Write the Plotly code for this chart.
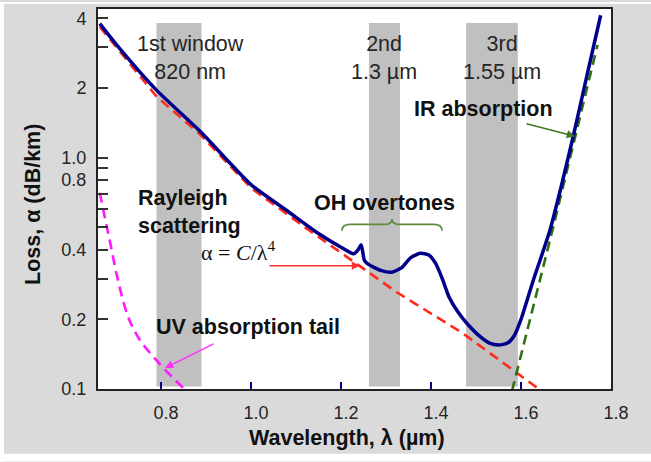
import plotly.graph_objects as go

# ---------------- data ----------------
total_x = [0.664, 0.70, 0.79, 0.887, 1.0, 1.08, 1.15, 1.2, 1.228, 1.238, 1.245, 1.252,
           1.262, 1.29, 1.313, 1.335, 1.355, 1.376, 1.395, 1.41, 1.425, 1.44, 1.46,
           1.48, 1.51, 1.53, 1.55, 1.57, 1.585, 1.60, 1.627, 1.664,
           1.69, 1.717, 1.745, 1.777]
total_y = [3.80, 3.10, 1.96, 1.30, 0.765, 0.59, 0.47, 0.41, 0.384, 0.40, 0.42, 0.36,
           0.345, 0.325, 0.32, 0.335, 0.37, 0.386, 0.38, 0.35, 0.30, 0.25, 0.215,
           0.192, 0.168, 0.158, 0.155, 0.158, 0.17, 0.20, 0.294, 0.483,
           0.76, 1.26, 2.2, 4.13]

rayleigh_x = [0.664, 0.79, 0.887, 1.0, 1.12, 1.242, 1.324, 1.471, 1.59, 1.665]
rayleigh_y = [3.68, 1.84, 1.26, 0.74, 0.50, 0.341, 0.262, 0.174, 0.117, 0.092]

ir_x = [1.58, 1.67, 1.77]
ir_y = [0.098, 0.487, 3.07]

uv_x = [0.664, 0.676, 0.687, 0.702, 0.727, 0.753, 0.783, 0.813, 0.861]
uv_y = [0.706, 0.542, 0.43, 0.31, 0.205, 0.163, 0.138, 0.119, 0.096]

# transmission windows (start, end) in µm and their labels
windows = [(0.79, 0.89), (1.262, 1.331), (1.478, 1.593)]
window_labels = ["1st window<br>820 nm", "2nd<br>1.3 µm", "3rd<br>1.55 µm"]

x_tickvals = [0.8, 1.0, 1.2, 1.4, 1.6, 1.8]
x_ticktext = ["0.8", "1.0", "1.2", "1.4", "1.6", "1.8"]
y_tickvals = [0.1, 0.2, 0.3, 0.4, 0.5, 0.6, 0.7, 0.8, 0.9, 1.0, 2, 3, 4]
y_ticktext = ["0.1", "0.2", "", "0.4", "", "", "", "0.8", "", "1.0", "2", "", "4"]

# ---------------- layout geometry helpers (pixel -> paper) ----------------
W, H = 651, 462
L, R, T, B = 98, 40, 7, 73
PW, PH = W - L - R, H - T - B


def pxx(x):
    return (x - L) / PW


def pxy(y):
    return (H - B - y) / PH


fig = go.Figure()

fig.add_trace(go.Scatter(x=rayleigh_x, y=rayleigh_y, mode="lines",
                         line=dict(color="#ff2a1a", width=2.6, dash="10px,6px"),
                         hoverinfo="skip"))
fig.add_trace(go.Scatter(x=ir_x, y=ir_y, mode="lines",
                         line=dict(color="#2f6e12", width=2.6, dash="10px,6px"),
                         hoverinfo="skip"))
fig.add_trace(go.Scatter(x=uv_x, y=uv_y, mode="lines",
                         line=dict(color="#ff19ff", width=2.6, dash="10px,6px",
                                   shape="spline", smoothing=1.0),
                         hoverinfo="skip"))
fig.add_trace(go.Scatter(x=total_x, y=total_y, mode="lines",
                         line=dict(color="#00008b", width=3.5, shape="spline", smoothing=0.6),
                         hoverinfo="skip"))

shapes = []
for (a, b) in windows:
    shapes.append(dict(type="rect", xref="x", yref="paper", x0=a, x1=b,
                       y0=pxy(386.5), y1=pxy(21), fillcolor="#c0c0c0",
                       line=dict(width=0), layer="below"))

# curly brace over the OH overtones
brace_px = [("M", 342, 230), ("Q", 342, 223.5, 350, 223.5), ("L", 384, 223.5),
            ("Q", 392, 223.5, 392, 218), ("Q", 392, 223.5, 400, 223.5),
            ("L", 434, 223.5), ("Q", 442, 223.5, 442, 230)]
path = ""
for seg in brace_px:
    cmd = seg[0]
    pts = seg[1:]
    coords = []
    for i in range(0, len(pts), 2):
        coords.append(f"{pxx(pts[i]):.5f},{pxy(pts[i+1]):.5f}")
    path += cmd + " " + " ".join(coords) + " "
shapes.append(dict(type="path", xref="paper", yref="paper", path=path.strip(),
                   line=dict(color="#5b8c3a", width=1.6)))

# white outer frame strips
shapes.append(dict(type="rect", xref="paper", yref="paper", x0=pxx(0), x1=pxx(4),
                   y0=pxy(462), y1=pxy(0), fillcolor="white", line=dict(width=0), layer="above"))
shapes.append(dict(type="rect", xref="paper", yref="paper", x0=pxx(0), x1=pxx(651),
                   y0=pxy(462), y1=pxy(454), fillcolor="white", line=dict(width=0), layer="above"))
shapes.append(dict(type="rect", xref="paper", yref="paper", x0=pxx(0), x1=pxx(651),
                   y0=pxy(2), y1=pxy(0), fillcolor="white", line=dict(width=0), layer="above"))

bold = dict(family="Liberation Sans, Arial, sans-serif", size=21.5, color="#111111")
reg = dict(family="Liberation Sans, Arial, sans-serif", size=21.5, color="#262626")

ann = []
centers = [190, 384, 502]
for lab, cx in zip(window_labels, centers):
    ann.append(dict(text=lab, x=pxx(cx), y=pxy(56.5), xref="paper", yref="paper",
                    showarrow=False, font=reg, xanchor="center", yanchor="middle"))

ann.append(dict(text="<b>IR absorption</b>", x=pxx(483), y=pxy(108), xref="paper", yref="paper",
                showarrow=False, font=bold, xanchor="center", yanchor="middle"))
ann.append(dict(text="<b>OH overtones</b>", x=pxx(384), y=pxy(202), xref="paper", yref="paper",
                showarrow=False, font=bold, xanchor="center", yanchor="middle"))
ann.append(dict(text="<b>Rayleigh<br>scattering</b>", x=pxx(136), y=pxy(211.5), xref="paper",
                yref="paper", showarrow=False, font=bold, xanchor="left", yanchor="middle",
                align="left"))
ann.append(dict(text="α = <i>C</i>/λ<sup>4</sup>", x=pxx(238), y=pxy(250), xref="paper",
                yref="paper", showarrow=False,
                font=dict(family="Liberation Serif, Times New Roman, serif", size=22, color="#111111"),
                xanchor="center", yanchor="middle"))
ann.append(dict(text="<b>UV absorption tail</b>", x=pxx(154), y=pxy(327), xref="paper", yref="paper",
                showarrow=False, font=bold, xanchor="left", yanchor="middle"))

# arrows
ann.append(dict(text="", x=pxx(575), y=pxy(135), xref="paper", yref="paper", showarrow=True,
                ax=-50, ay=-13, arrowhead=2, arrowsize=1.1, arrowwidth=1.5, arrowcolor="#3d7a1f"))
ann.append(dict(text="", x=pxx(360), y=pxy(265), xref="paper", yref="paper", showarrow=True,
                ax=-92, ay=0, arrowhead=2, arrowsize=1.1, arrowwidth=1.5, arrowcolor="#ff3030"))
ann.append(dict(text="", x=pxx(165), y=pxy(368), xref="paper", yref="paper", showarrow=True,
                ax=50, ay=-25, arrowhead=2, arrowsize=1.1, arrowwidth=1.5, arrowcolor="#ff30ff"))

# axis titles
ann.append(dict(text="<b>Wavelength, λ (µm)</b>", x=pxx(347), y=pxy(438), xref="paper",
                yref="paper", showarrow=False, font=bold, xanchor="center", yanchor="middle"))
ann.append(dict(text="<b>Loss, α (dB/km)</b>", x=pxx(33), y=pxy(204), xref="paper",
                yref="paper", showarrow=False, font=bold, xanchor="center", yanchor="middle",
                textangle=-90))

fig.update_layout(
    width=W, height=H, autosize=False,
    margin=dict(l=L, r=R, t=T, b=B, pad=0),
    paper_bgcolor="#dadada", plot_bgcolor="white",
    showlegend=False,
    shapes=shapes, annotations=ann,
    font=dict(family="Liberation Sans, Arial, sans-serif", size=18, color="#262626"),
)
fig.update_xaxes(range=[0.66, 1.8], tickvals=x_tickvals, ticktext=x_ticktext,
                 ticks="inside", ticklen=7, tickwidth=1.5, tickcolor="#00008b",
                 showline=True, linecolor="#222222", linewidth=2, mirror=True,
                 showgrid=False, zeroline=False, ticklabelstandoff=6, ticklabelshift=5,
                 tickfont=dict(size=18, color="#262626"))
fig.update_yaxes(type="log", range=[-1, 0.643], tickvals=y_tickvals, ticktext=y_ticktext,
                 ticks="inside", ticklen=10, tickwidth=1.5, tickcolor="#333333",
                 showline=True, linecolor="#222222", linewidth=2, mirror=True,
                 showgrid=False, zeroline=False, ticklabelstandoff=6,
                 tickfont=dict(size=18, color="#262626"))

fig.write_html("out.html")
